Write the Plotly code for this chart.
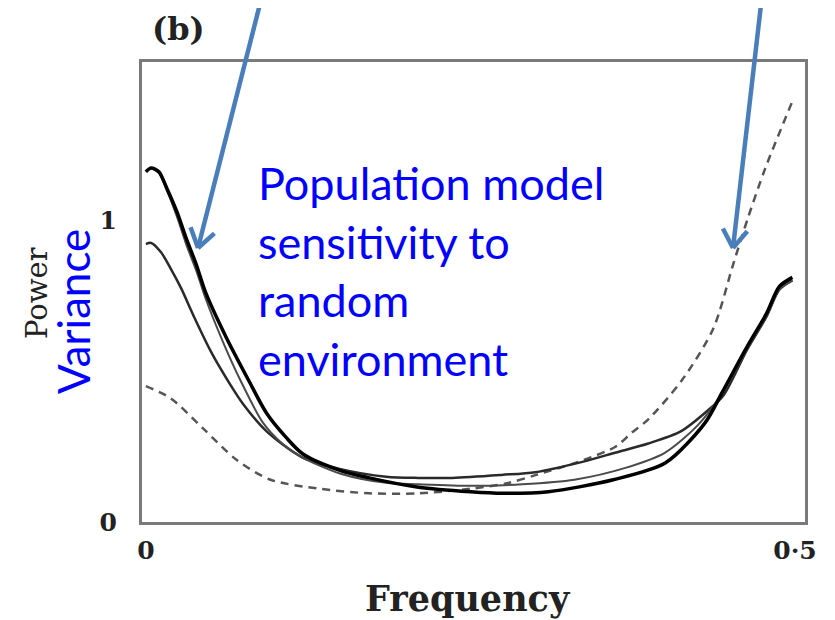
import math
import plotly.graph_objects as go

# ---- data ----
s1_x = [0, .004, .01, .016, .024, .031, .039, .046, .062, .079, .093, .108, .121, .15, .172, .21, .25, .275, .31, .36, .40, .431, .444, .463, .478, .488, .498]
s1_y = [1.16, 1.172, 1.16, 1.106, 1.026, .94, .85, .76, .61, .47, .36, .28, .225, .17, .146, .115, .10, .095, .10, .14, .195, .33, .43, .58, .69, .78, .81]

s2_x = [0, .004, .01, .016, .024, .031, .039, .046, .06, .0727, .09, .105, .12, .15, .185, .21, .25, .29, .33, .37, .40, .425, .443, .463, .478, .488, .498]
s2_y = [1.16, 1.17, 1.155, 1.10, 1.01, .92, .83, .74, .59, .47, .33, .26, .215, .16, .13, .125, .12, .125, .14, .18, .23, .32, .42, .57, .68, .77, .80]

s3_x = [0, .004, .0115, .019, .027, .037, .05, .065, .075, .093, .12, .15, .185, .21, .236, .274, .30, .337, .362, .387, .412, .433, .445, .463, .478, .488, .498]
s3_y = [.92, .924, .894, .84, .775, .68, .565, .455, .39, .30, .215, .175, .15, .146, .146, .156, .165, .20, .23, .26, .30, .37, .42, .57, .68, .77, .80]

d_x = [0, .019, .044, .07, .096, .134, .172, .21, .25, .28, .30, .337, .362, .374, .387, .413, .437, .4525, .464, .477, .4977]
d_y = [.45, .41, .31, .205, .14, .11, .095, .095, .11, .13, .155, .205, .25, .295, .34, .47, .64, .855, 1.01, 1.17, 1.39]

x_ticks = [0, 0.5]
x_ticklabels = ["0", "0·5"]
y_ticks = [0, 1]
y_ticklabels = ["0", "1"]

# ---- layout geometry (page pixels; the page body has an 8px margin) ----
OFF = 8
W, H = 835, 620
L, R, T, B = 142, 30, 62, 98
PW, PH = W - L - R, H - T - B
XR = [-0.003, 0.5077]
YR = [0, 1.523]


def px(xp):
    return (xp - L) / PW


def py(yp):
    return (H - B - yp) / PH


fig = go.Figure()
fig.add_trace(go.Scatter(x=d_x, y=d_y, mode="lines",
                         line=dict(color="#555555", width=2.5, dash="8px,6px", shape="spline", smoothing=0.8)))
fig.add_trace(go.Scatter(x=s3_x, y=s3_y, mode="lines",
                         line=dict(color="#2a2a2a", width=2.5, shape="spline", smoothing=0.8)))
fig.add_trace(go.Scatter(x=s2_x, y=s2_y, mode="lines",
                         line=dict(color="#4a4a4a", width=2, shape="spline", smoothing=0.8)))
fig.add_trace(go.Scatter(x=s1_x, y=s1_y, mode="lines",
                         line=dict(color="#000000", width=3.5, shape="spline", smoothing=0.8)))

tickfont = dict(family="DejaVu Serif", size=25, color="#222222")
fig.update_xaxes(range=XR, tickvals=x_ticks, ticktext=["<b>%s</b>" % t for t in x_ticklabels],
                 showgrid=False, zeroline=False, showline=True, mirror=True,
                 linecolor="#7a7a7a", linewidth=3, ticks="", tickfont=tickfont,
                 ticklabelstandoff=4)
fig.update_yaxes(range=YR, tickvals=y_ticks, ticktext=["<b>%s</b>" % t for t in y_ticklabels],
                 showgrid=False, zeroline=False, showline=True, mirror=True,
                 linecolor="#7a7a7a", linewidth=3, ticks="", tickfont=tickfont,
                 ticklabelstandoff=17)

ann = []
ann.append(dict(text="<b>(b)</b>", x=px(178), y=py(29), xref="paper", yref="paper",
                showarrow=False, xanchor="center", yanchor="middle",
                font=dict(family="DejaVu Serif", size=32, color="#222222")))
ann.append(dict(text="<b>Frequency</b>", x=px(468), y=py(598), xref="paper", yref="paper",
                showarrow=False, xanchor="center", yanchor="middle",
                font=dict(family="DejaVu Serif", size=35, color="#222222")))
ann.append(dict(text="Power", x=px(37), y=py(293), xref="paper", yref="paper",
                showarrow=False, xanchor="center", yanchor="middle", textangle=-90,
                font=dict(family="DejaVu Serif", size=29, color="#222222")))
ann.append(dict(text="Variance", x=px(73), y=py(312), xref="paper", yref="paper",
                showarrow=False, xanchor="center", yanchor="middle", textangle=-90,
                font=dict(family="Lato", size=44, color="#0000ff")))
ann.append(dict(text="Population model<br>sensitivity to<br>random<br>environment",
                x=px(256), y=py(154), xref="paper", yref="paper", align="left",
                showarrow=False, xanchor="left", yanchor="top",
                font=dict(family="Lato", size=45, color="#0000ff")))

# ---- blue callout arrows (shaft + open V head), page-pixel geometry ----
ARROW = "#4a7ebb"
shapes = []


def arrow(tail, tip, arm=22, ang=34):
    tx, ty = tail
    hx, hy = tip
    vx, vy = tx - hx, ty - hy
    n = math.hypot(vx, vy)
    ux, uy = vx / n, vy / n
    shapes.append(dict(type="line", xref="paper", yref="paper",
                       x0=px(tx), y0=py(ty), x1=px(hx), y1=py(hy),
                       line=dict(color=ARROW, width=4.5)))
    for s in (1, -1):
        a = math.radians(ang * s)
        ax_ = ux * math.cos(a) - uy * math.sin(a)
        ay_ = ux * math.sin(a) + uy * math.cos(a)
        shapes.append(dict(type="line", xref="paper", yref="paper",
                           x0=px(hx), y0=py(hy), x1=px(hx + arm * ax_), y1=py(hy + arm * ay_),
                           line=dict(color=ARROW, width=4.5)))


arrow((262, -4), (198, 248))
arrow((762, -4), (733, 248))

fig.update_layout(width=W - OFF, height=H - OFF,
                  margin=dict(l=L - OFF, r=R, t=T - OFF, b=B),
                  paper_bgcolor="white", plot_bgcolor="white",
                  showlegend=False, annotations=ann, shapes=shapes)

fig.write_html("out.html")
